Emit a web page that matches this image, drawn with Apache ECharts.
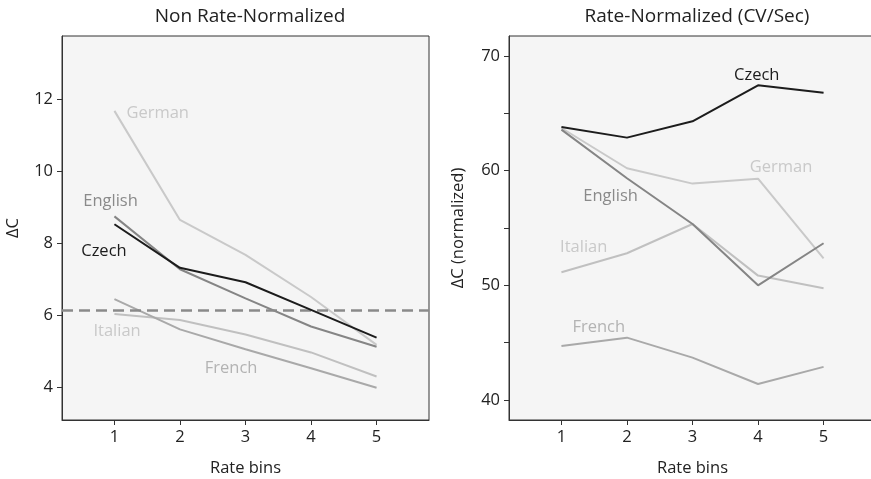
<!DOCTYPE html>
<html><head><meta charset="utf-8">
<script src="https://cdn.jsdelivr.net/npm/echarts@6/dist/echarts.min.js"></script>
<style>html,body{margin:0;padding:0;background:#fff}#c{width:871px;height:479px}</style>
</head><body><div id="c"></div>
<script>
const bins = [1, 2, 3, 4, 5];
const leftTicks = [4, 6, 8, 10, 12];
const rightTicks = [40, 45, 50, 55, 60, 65, 70];
const rightLabels = [40, 50, 60, 70];
const threshold = 6.12;

// Non rate-normalized
const czechL   = [8.52, 7.31, 6.91, 6.14, 5.37];
const englishL = [8.74, 7.27, 6.46, 5.68, 5.12];
const germanL  = [11.67, 8.64, 7.67, 6.50, 5.17];
const italianL = [6.03, 5.86, 5.46, 4.96, 4.29];
const frenchL  = [6.44, 5.60, 5.05, 4.52, 3.98];

// Rate-normalized
const czechR   = [63.81, 62.88, 64.30, 67.44, 66.80];
const englishR = [63.58, 59.34, 55.35, 50.00, 53.67];
const germanR  = [63.72, 60.21, 58.87, 59.30, 52.36];
const italianR = [51.14, 52.80, 55.35, 50.85, 49.75];
const frenchR  = [44.72, 45.44, 43.70, 41.40, 42.89];

const FONT = 'Open Sans';
const colors = {Czech:'#1c1c1c', English:'#858585', German:'#c9c9c9', Italian:'#c0c0c0', French:'#a9a9a9'};
const labelColors = {Czech:'#1c1c1c', English:'#8a8a8a', German:'#c9c9c9', Italian:'#c9c9c9', French:'#b3b3b3'};

function pts(vals){ return bins.map((b,i)=>[b, vals[i]]); }
function mk(name, vals, gi, labelCoord, extra){
  const s = {
    name: name, type:'line', xAxisIndex:gi, yAxisIndex:gi,
    data: pts(vals), symbol:'none', silent:true,
    lineStyle:{color:colors[name], width:2},
    z: name==='Czech'?5:3,
    markPoint:{
      symbol:'circle', symbolSize:0, silent:true,
      label:{show:true, formatter:name, color:labelColors[name], fontFamily:FONT, fontSize:16.5, position:'inside'},
      data:[{coord:labelCoord}]
    }
  };
  if (extra) Object.assign(s, extra);
  return s;
}

function xAx(gi){
  return {type:'value', gridIndex:gi, min:0.2, max:5.8,
    name:'Rate bins', nameLocation:'middle', nameGap:40,
    nameTextStyle:{fontFamily:FONT, fontSize:16.5, color:'#222'},
    axisLine:{show:true, onZero:false, lineStyle:{color:'#333', width:1}},
    axisTick:{show:true, length:5, customValues:bins, lineStyle:{color:'#333'}},
    axisLabel:{customValues:bins, fontFamily:FONT, fontSize:16.5, color:'#222', margin:9},
    splitLine:{show:false}};
}

const option = {
  animation:false,
  backgroundColor:'#fff',
  title:[
    {text:'Non Rate-Normalized', left:245, top:2, textAlign:'center', textStyle:{fontFamily:FONT, fontSize:19, fontWeight:'normal', color:'#222'}},
    {text:'Rate-Normalized (CV/Sec)', left:692, top:2, textAlign:'center', textStyle:{fontFamily:FONT, fontSize:19, fontWeight:'normal', color:'#222'}}
  ],
  grid:[
    {left:62, top:36, width:367, height:384, show:true, backgroundColor:'#f5f5f5', borderColor:'#333', borderWidth:1, outerBoundsMode:'none', containLabel:false},
    {left:509, top:36, width:367, height:384, show:true, backgroundColor:'#f5f5f5', borderColor:'#333', borderWidth:1, outerBoundsMode:'none', containLabel:false}
  ],
  xAxis:[xAx(0), xAx(1)],
  yAxis:[
    {type:'value', gridIndex:0, min:3.083, max:13.75,
      name:'ΔC', nameLocation:'middle', nameGap:40, nameRotate:90,
      nameTextStyle:{fontFamily:FONT, fontSize:16.5, color:'#222'},
      axisLine:{show:true, onZero:false, lineStyle:{color:'#333'}},
      axisTick:{show:true, length:5, customValues:leftTicks, lineStyle:{color:'#333'}},
      axisLabel:{customValues:leftTicks, fontFamily:FONT, fontSize:16.5, color:'#222', margin:9},
      splitLine:{show:false}},
    {type:'value', gridIndex:1, min:38.26, max:71.74,
      name:'ΔC (normalized)', nameLocation:'middle', nameGap:42, nameRotate:90,
      nameTextStyle:{fontFamily:FONT, fontSize:16.5, color:'#222'},
      axisLine:{show:true, onZero:false, lineStyle:{color:'#333'}},
      axisTick:{show:true, length:5, customValues:rightTicks, lineStyle:{color:'#333'}},
      axisLabel:{customValues:rightLabels, fontFamily:FONT, fontSize:16.5, color:'#222', margin:9},
      splitLine:{show:false}}
  ],
  series:[
    mk('German', germanL, 0, [1.66, 11.6], {markLine:{symbol:'none', silent:true, label:{show:false},
        lineStyle:{color:'#8a8a8a', width:2.5, type:[11,6]}, data:[{yAxis:threshold}]}}),
    mk('Italian', italianL, 0, [1.04, 5.54]),
    mk('French', frenchL, 0, [2.78, 4.52]),
    mk('English', englishL, 0, [0.94, 9.15]),
    mk('Czech', czechL, 0, [0.84, 7.78]),
    mk('German', germanR, 1, [4.35, 60.26]),
    mk('Italian', italianR, 1, [1.34, 53.32]),
    mk('French', frenchR, 1, [1.57, 46.31]),
    mk('English', englishR, 1, [1.75, 57.73]),
    mk('Czech', czechR, 1, [3.98, 68.34])
  ]
};
const chart = echarts.init(document.getElementById('c'), null, {renderer:'canvas'});
chart.setOption(option);
</script></body></html>
